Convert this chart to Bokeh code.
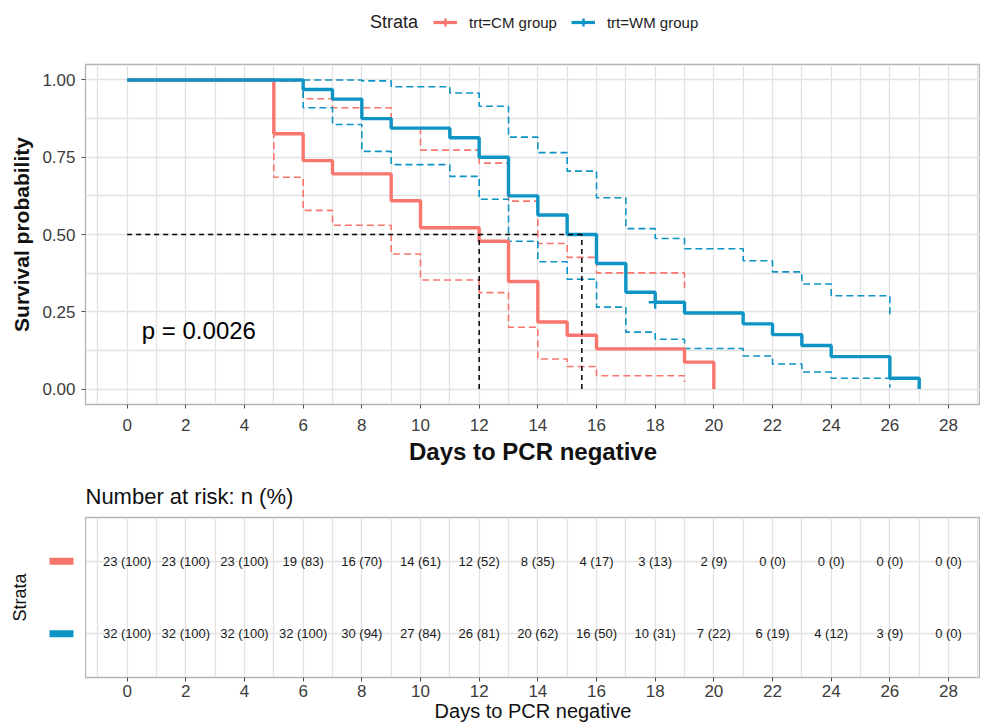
from bokeh.plotting import figure
from bokeh.models import (Range1d, FixedTicker, NumeralTickFormatter, Legend, LegendItem, Label)
from bokeh.layouts import column, row
from bokeh.embed import file_html
from bokeh.resources import INLINE
from bokeh.core.properties import value

FONT = "Liberation Sans"

# ---------------- data ----------------
groups = ["trt=CM group", "trt=WM group"]
legend_title = "Strata"
colors = ["#F8766D", "#0D93C4"]

cm_time = [0, 5, 6, 7, 9, 10, 12, 13, 14, 15, 16, 19, 20]
cm_surv = [1.0, 0.826, 0.739, 0.696, 0.609, 0.522, 0.478, 0.348, 0.217, 0.174, 0.130, 0.087, 0.0]
cm_ci_time = [0, 5, 6, 7, 9, 10, 12, 13, 14, 15, 16, 19]
cm_upper = [1.0, 0.996, 0.939, 0.910, 0.844, 0.773, 0.731, 0.608, 0.471, 0.426, 0.376, 0.327]
cm_lower = [1.0, 0.685, 0.578, 0.530, 0.437, 0.353, 0.312, 0.200, 0.097, 0.073, 0.043, 0.023]
cm_censor_time = []
cm_censor_surv = []

wm_time = [0, 6, 7, 8, 9, 11, 12, 13, 14, 15, 16, 17, 18, 19, 21, 22, 23, 24, 26, 27]
wm_surv = [1.0, 0.969, 0.938, 0.875, 0.844, 0.813, 0.750, 0.625, 0.563, 0.500, 0.406, 0.313,
           0.281, 0.246, 0.211, 0.176, 0.141, 0.105, 0.035, 0.0]
wm_ci_time = [0, 6, 7, 8, 9, 11, 12, 13, 14, 15, 16, 17, 18, 19, 21, 22, 23, 24, 26]
wm_upper = [1.0, 1.0, 1.0, 0.997, 0.978, 0.958, 0.915, 0.815, 0.765, 0.705, 0.619, 0.519,
            0.487, 0.454, 0.415, 0.379, 0.340, 0.302, 0.239]
wm_lower = [1.0, 0.910, 0.856, 0.769, 0.726, 0.688, 0.614, 0.478, 0.412, 0.355, 0.265, 0.184,
            0.161, 0.131, 0.107, 0.081, 0.055, 0.035, 0.005]
wm_censor_time = [18]
wm_censor_surv = [0.281]

median_surv = 0.5
median_days = [12, 15.5]
p_text = "p = 0.0026"
p_x, p_y = 0.5, 0.19

x_ticks = list(range(0, 29, 2))
x_minor = list(range(-1, 30, 2))
y_ticks = [0.0, 0.25, 0.5, 0.75, 1.0]
y_minor = [-0.125, 0.125, 0.375, 0.625, 0.875, 1.125]

risk_days = list(range(0, 29, 2))
cm_risk_n = [23, 23, 23, 19, 16, 14, 12, 8, 4, 3, 2, 0, 0, 0, 0]
cm_risk_pct = [100, 100, 100, 83, 70, 61, 52, 35, 17, 13, 9, 0, 0, 0, 0]
wm_risk_n = [32, 32, 32, 32, 30, 27, 26, 20, 16, 10, 7, 6, 4, 3, 0]
wm_risk_pct = [100, 100, 100, 100, 94, 84, 81, 62, 50, 31, 22, 19, 12, 9, 0]
risk_rows = [2, 1]  # CM on top, WM below
strata_key_x = 0.5

# ---------------- style ----------------
W = 980
LEFT = 85
GRID = "#E2E2E2"
BORDER = "#B3B3B3"
TICKTXT = "#3C3C3C"
X0 = -1.42
X1 = 29.09


def style_axes(fig):
    fig.axis.axis_line_color = None
    fig.axis.major_tick_line_color = "#4D4D4D"
    fig.axis.major_tick_in = 0
    fig.axis.major_tick_out = 4
    fig.axis.minor_tick_line_color = None
    fig.axis.major_label_text_font = FONT
    fig.axis.major_label_text_font_size = "17px"
    fig.axis.major_label_text_color = TICKTXT
    fig.axis.axis_label_text_font = FONT
    fig.axis.axis_label_text_color = "#111111"
    fig.axis.axis_label_text_font_style = "normal"
    fig.outline_line_color = BORDER
    fig.outline_line_width = 1.3
    fig.xgrid.grid_line_color = GRID
    fig.xgrid.grid_line_width = 1.3
    fig.xgrid.minor_grid_line_color = GRID
    fig.xgrid.minor_grid_line_width = 1.3


series = [
    (cm_time, cm_surv, cm_ci_time, cm_upper, cm_lower, cm_censor_time, cm_censor_surv),
    (wm_time, wm_surv, wm_ci_time, wm_upper, wm_lower, wm_censor_time, wm_censor_surv),
]

# ---------------- legend strip (top) ----------------
LH = 60
lg = figure(width=W, height=LH, x_range=Range1d(X0, X1), y_range=Range1d(2, 3),
            x_axis_type=None, y_axis_type=None, output_backend="svg", toolbar_location=None,
            min_border_left=0, min_border_right=0, min_border_top=0, min_border_bottom=0)
lg.outline_line_color = None
lg.grid.visible = False
r_blank = lg.line(cm_time, cm_surv, line_alpha=0)
legend_items = []
for (t_, s, *_rest), col, name in zip(series, colors, groups):
    r_l = lg.step(t_, s, mode="after", line_color=col, line_width=3.2)
    r_c = lg.scatter(t_, s, marker="cross", size=13, line_color=col, line_width=2.4)
    legend_items.append(LegendItem(label=name, renderers=[r_l, r_c]))
legend = Legend(items=legend_items, orientation="horizontal", location=(348, 28),
                label_text_font=FONT, label_text_font_size="15px", label_text_color="#222222",
                label_standoff=12, spacing=14, glyph_width=24, glyph_height=20,
                label_height=20, padding=0, margin=0, border_line_color=None,
                background_fill_alpha=0)
lg.add_layout(legend, "center")
title_legend = Legend(items=[LegendItem(label=legend_title, renderers=[r_blank])],
                      orientation="horizontal", location=(285, 27),
                      label_text_font=FONT, label_text_font_size="18px",
                      label_text_color="#222222", label_standoff=0, glyph_width=0,
                      glyph_height=22, label_height=22, padding=0, margin=0,
                      border_line_color=None, background_fill_alpha=0)
lg.add_layout(title_legend, "center")

# ---------------- main KM plot ----------------
p = figure(width=W, height=470 - LH, x_range=Range1d(X0, X1), y_range=Range1d(-0.05, 1.05),
           output_backend="svg", toolbar_location=None,
           min_border_left=LEFT, min_border_right=0, min_border_top=4, min_border_bottom=66)
xt = FixedTicker(ticks=x_ticks, minor_ticks=x_minor)
yt = FixedTicker(ticks=y_ticks, minor_ticks=y_minor)
p.xaxis.ticker = xt
p.xgrid.ticker = xt
p.yaxis.ticker = yt
p.ygrid.ticker = yt
p.yaxis.formatter = NumeralTickFormatter(format="0.00")
style_axes(p)
p.ygrid.grid_line_color = GRID
p.ygrid.grid_line_width = 1.3
p.ygrid.minor_grid_line_color = GRID
p.ygrid.minor_grid_line_width = 1.3

p.xaxis.axis_label = "Days to PCR negative"
p.xaxis.axis_label_text_font_size = "24px"
p.xaxis.axis_label_text_font_style = "bold"
p.xaxis.major_label_standoff = 10
p.xaxis.axis_label_standoff = 4
p.yaxis.axis_label = "Survival probability"
p.yaxis.axis_label_text_font_size = "21px"
p.yaxis.axis_label_text_font_style = "bold"
p.yaxis.major_label_standoff = 6
p.yaxis.axis_label_standoff = 6

for (t_, s, ct, up, lo, cx, cy), col in zip(series, colors):
    p.step(ct, up, mode="after", line_color=col, line_width=1.6, line_dash="7 4")
    p.step(ct, lo, mode="after", line_color=col, line_width=1.6, line_dash="7 4")

for (t_, s, ct, up, lo, cx, cy), col in zip(series, colors):
    p.step(t_, s, mode="after", line_color=col, line_width=3.4)
    p.scatter(cx, cy, marker="cross", size=13, line_color=col, line_width=2.4)

# median survival lines
p.segment(x0=[0], y0=[median_surv], x1=[max(median_days)], y1=[median_surv],
          line_color="black", line_width=1.5, line_dash="5 4")
p.segment(x0=median_days, y0=[0] * len(median_days), x1=median_days,
          y1=[median_surv] * len(median_days),
          line_color="black", line_width=1.5, line_dash="5 4")

p.add_layout(Label(x=p_x, y=p_y, text=p_text, text_font=FONT, text_font_size="24px",
                   text_baseline="middle", text_color="black"))

# ---------------- risk table ----------------
TH = 255
TOP_T = 47
BOT_T = 48
t = figure(width=W - LEFT, height=TH, x_range=Range1d(X0, X1), y_range=Range1d(0.4, 2.6),
           output_backend="svg", toolbar_location=None,
           min_border_left=0, min_border_right=0, min_border_top=TOP_T, min_border_bottom=BOT_T)
t.title.text = "Number at risk: n (%)"
t.title.align = "left"
t.title.text_font = FONT
t.title.text_font_size = "22px"
t.title.text_font_style = "normal"
t.title.text_color = "#111111"
t.title.standoff = 18
xt2 = FixedTicker(ticks=x_ticks, minor_ticks=x_minor)
yt2 = FixedTicker(ticks=risk_rows)
t.xaxis.ticker = xt2
t.xgrid.ticker = xt2
t.ygrid.ticker = yt2
style_axes(t)
t.yaxis.visible = False
t.ygrid.grid_line_color = GRID
t.ygrid.grid_line_width = 1.3
t.xaxis.axis_label = "Days to PCR negative"
t.xaxis.axis_label_text_font_size = "20px"
t.xaxis.major_label_standoff = 3
t.xaxis.axis_label_standoff = 0

for rw, ns, pcts in zip(risk_rows, [cm_risk_n, wm_risk_n], [cm_risk_pct, wm_risk_pct]):
    labels = [f"{n} ({pc})" for n, pc in zip(ns, pcts)]
    t.text(x=risk_days, y=[rw] * len(risk_days), text=labels, text_align="center",
           text_baseline="middle", text_font=value(FONT), text_font_size="13px",
           text_color="#1A1A1A")

# strata colour keys (left of the table)
k = figure(width=LEFT, height=TH, x_range=Range1d(0, 1), y_range=t.y_range,
           output_backend="svg", toolbar_location=None,
           min_border_left=37, min_border_right=0, min_border_top=TOP_T, min_border_bottom=BOT_T)
k.outline_line_color = None
k.grid.visible = False
k.xaxis.visible = False
k.yaxis.ticker = FixedTicker(ticks=[])
k.yaxis.major_label_text_font_size = "0px"
k.yaxis.major_tick_line_color = None
k.yaxis.minor_tick_line_color = None
k.yaxis.axis_line_color = None
k.yaxis.major_tick_out = 0
k.yaxis.major_label_standoff = 0
k.yaxis.axis_label = "Strata"
k.yaxis.axis_label_text_font = FONT
k.yaxis.axis_label_text_font_size = "18px"
k.yaxis.axis_label_text_font_style = "normal"
k.yaxis.axis_label_text_color = "#111111"
k.yaxis.axis_label_standoff = 8
k.rect(x=[strata_key_x] * len(risk_rows), y=risk_rows, width=24, height=7,
       width_units="screen", height_units="screen", fill_color=colors, line_color=None)

layout = column(lg, p, row(k, t))
open("out.html", "w").write(file_html(layout, INLINE))
